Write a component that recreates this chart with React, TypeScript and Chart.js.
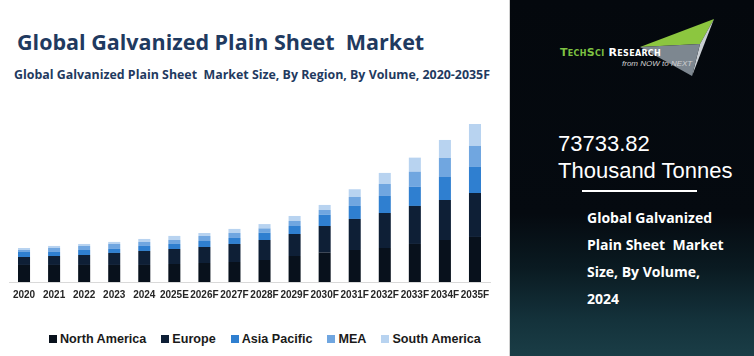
import React, { useEffect, useRef } from "react";
import { Chart, registerables } from "chart.js";

Chart.register(...registerables);

const categories = ["2020", "2021", "2022", "2023", "2024", "2025E", "2026F", "2027F", "2028F", "2029F", "2030F", "2031F", "2032F", "2033F", "2034F", "2035F"];

// Thousand tonnes
const northAmerica = [29200, 29200, 29200, 29200, 29200, 30900, 32600, 34300, 37700, 44600, 50200, 54900, 58300, 65200, 72000, 77200];
const europe = [13700, 15400, 17100, 20600, 24000, 25700, 27400, 30900, 34300, 37700, 45800, 53200, 60000, 65200, 68600, 75400];
const asiaPacific = [8600, 6900, 8600, 6900, 8600, 8600, 10300, 10300, 12500, 13700, 19400, 22300, 29200, 33100, 39400, 44600];
const mea = [3400, 6900, 6900, 8600, 6900, 6900, 8600, 8600, 7400, 8600, 8100, 15400, 20600, 25700, 32600, 36000];
const southAmerica = [3400, 3400, 3400, 3400, 5100, 6900, 5100, 6900, 7400, 8600, 8600, 13200, 18900, 24000, 30900, 37700];

const seriesNames = ["North America", "Europe", "Asia Pacific", "MEA", "South America"];
const seriesColors = ["#08111c", "#0e1f36", "#2f7fd0", "#70a6e0", "#b8d3f0"];
const seriesData = [northAmerica, europe, asiaPacific, mea, southAmerica];

const yMax = 300000;

function BarChart() {
  const ref = useRef<HTMLCanvasElement | null>(null);
  useEffect(() => {
    if (!ref.current) return;
    const chart = new Chart(ref.current, {
      type: "bar",
      data: {
        labels: categories,
        datasets: seriesNames.map((name, i) => ({
          label: name,
          data: seriesData[i],
          backgroundColor: seriesColors[i],
          borderWidth: 0,
          barPercentage: 0.4,
          categoryPercentage: 1,
        })),
      },
      options: {
        responsive: false,
        animation: false,
        layout: { padding: { left: 9, right: 10, top: 7, bottom: 2 } },
        plugins: { legend: { display: false }, tooltip: { enabled: false }, title: { display: false } },
        scales: {
          x: {
            stacked: true,
            grid: { display: false, drawTicks: false },
            border: { display: true, color: "#d9d9d9", width: 1 },
            ticks: {
              autoSkip: false,
              maxRotation: 0,
              minRotation: 0,
              padding: 7,
              color: "#262626",
              font: { family: "Liberation Sans, Arial, sans-serif", size: 10, weight: "bold" },
            },
          },
          y: {
            stacked: true,
            display: false,
            min: 0,
            max: yMax,
          },
        },
      },
    });
    return () => chart.destroy();
  }, []);
  return <canvas ref={ref} width={500} height={210} style={{ position: "absolute", left: 0, top: 100, width: 500, height: 210 }} />;
}

function Legend() {
  return (
    <div style={{ position: "absolute", left: 49, top: 330, height: 18, display: "flex", alignItems: "center", fontFamily: "Liberation Sans, Arial, sans-serif", fontWeight: 700, fontSize: 12.6, color: "#1a1a1a", whiteSpace: "nowrap" }}>
      {seriesNames.map((n, i) => (
        <div key={n} style={{ display: "flex", alignItems: "center", marginRight: 15 }}>
          <span style={{ display: "inline-block", width: 8, height: 8, background: seriesColors[i], marginRight: 3 }} />
          <span>{n}</span>
        </div>
      ))}
    </div>
  );
}

function Logo() {
  return (
    <div style={{ position: "absolute", left: 0, top: 0, width: 244, height: 90 }}>
      <svg width={244} height={90} style={{ position: "absolute", left: 0, top: 0 }}>
        <polygon points="204,19 130,47 190,44" fill="#8cc63f" />
        <polygon points="204,19 190,44 182,76" fill="#c9ced3" />
        <polygon points="130,47 190,44 182,76" fill="#7d8790" />
      </svg>
      <div style={{ position: "absolute", left: 50, top: 46, fontFamily: "DejaVu Sans, sans-serif", fontWeight: 700, fontSize: 11, letterSpacing: 0.3, fontVariant: "small-caps", whiteSpace: "nowrap" }}>
        <span style={{ color: "#7dc242" }}>TechSci</span>
        <span style={{ color: "#ffffff" }}> Research</span>
      </div>
      <div style={{ position: "absolute", left: 112, top: 59, fontFamily: "Liberation Sans, Arial, sans-serif", fontStyle: "italic", fontSize: 8, color: "#d0d0d0", whiteSpace: "nowrap" }}>
        from NOW to NEXT
      </div>
    </div>
  );
}

function SidePanel() {
  const lines = ["Global Galvanized", "Plain Sheet\u00a0 Market", "Size, By Volume,", "2024"];
  return (
    <div style={{ position: "absolute", left: 510, top: 0, width: 244, height: 356, overflow: "hidden", background: "linear-gradient(to bottom, #04080d 0%, #050a10 60%, #0a1a21 75%, #14323b 90%, #1a3d46 100%)" }}>
      <Logo />
      <div style={{ position: "absolute", left: 48, top: 130, fontFamily: "Liberation Sans, Arial, sans-serif", fontSize: 22, color: "#ffffff", lineHeight: "27px", whiteSpace: "nowrap" }}>
        <div>73733.82</div>
        <div>Thousand Tonnes</div>
      </div>
      <div style={{ position: "absolute", left: 72, top: 190, width: 115, height: 2, background: "#ffffff" }} />
      <div style={{ position: "absolute", left: 77, top: 204, fontFamily: "Open Sans, sans-serif", fontWeight: 700, fontSize: 14, color: "#ffffff", lineHeight: "27px", whiteSpace: "nowrap" }}>
        {lines.map((l) => (
          <div key={l}>{l}</div>
        ))}
      </div>
    </div>
  );
}

export default function App() {
  return (
    <div style={{ position: "fixed", left: 0, top: 0, width: 754, height: 356, background: "#ffffff", overflow: "hidden" }}>
      <div style={{ position: "absolute", left: 17, top: 27, fontFamily: "Open Sans, sans-serif", fontWeight: 700, fontSize: 21.5, color: "#1f3a60", whiteSpace: "pre" }}>
        Global Galvanized Plain Sheet  Market
      </div>
      <div style={{ position: "absolute", left: 14, top: 66, fontFamily: "Open Sans, sans-serif", fontWeight: 700, fontSize: 12.4, color: "#1f3a60", whiteSpace: "pre" }}>
        Global Galvanized Plain Sheet  Market Size, By Region, By Volume, 2020-2035F
      </div>
      <BarChart />
      <Legend />
      <div style={{ position: "absolute", left: 509, top: 0, width: 1, height: 356, background: "#d0d0d0" }} />
      <SidePanel />
    </div>
  );
}
